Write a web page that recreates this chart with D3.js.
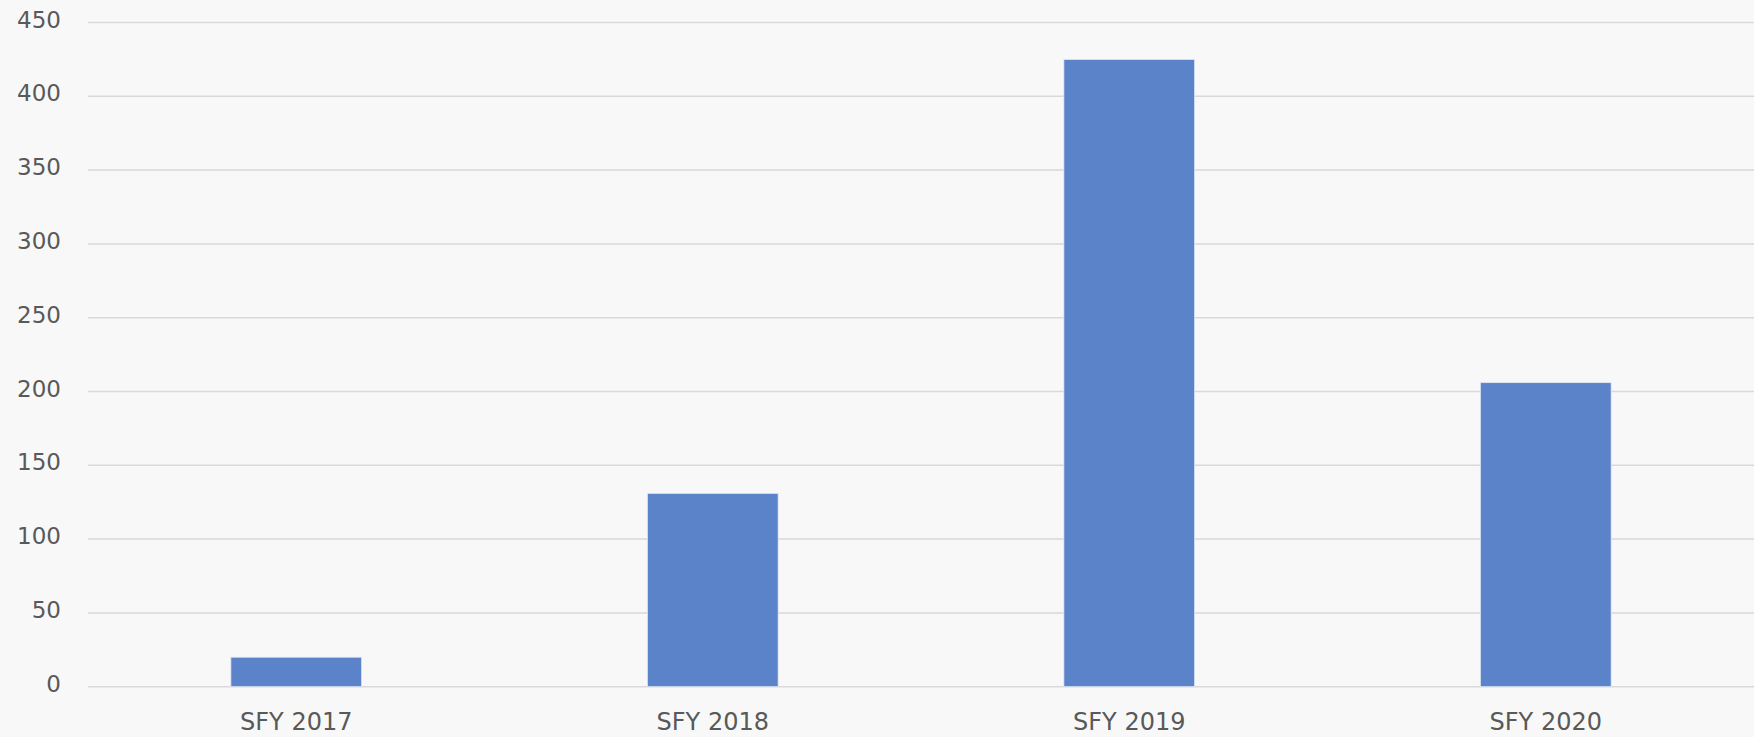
<!DOCTYPE html>
<html>
<head>
<meta charset="utf-8">
<script src="https://cdn.jsdelivr.net/npm/d3@7"></script>
<style>
  html, body { margin: 0; padding: 0; background: #f8f8f8; }
  svg { display: block; }
  text { font-family: "DejaVu Sans", Verdana, sans-serif; fill: #595959; }
</style>
</head>
<body>
<svg id="chart" width="1754" height="737"></svg>
<script>
const categories = ["SFY 2017", "SFY 2018", "SFY 2019", "SFY 2020"];
const values = [20, 131, 425, 206];
const yTicks = [0, 50, 100, 150, 200, 250, 300, 350, 400, 450];

const W = 1754, H = 737;
const margin = { left: 88, right: 0, top: 22.5, bottom: 50.3 };

const svg = d3.select("#chart");
svg.append("rect").attr("width", W).attr("height", H).attr("fill", "#f8f8f8");

const x = d3.scaleBand()
  .domain(categories)
  .range([margin.left, W - margin.right])
  .paddingInner(0.686)
  .paddingOuter(0.343);

const y = d3.scaleLinear()
  .domain([0, 450])
  .range([H - margin.bottom, margin.top]);

// gridlines
svg.append("g")
  .selectAll("line")
  .data(yTicks)
  .join("line")
  .attr("x1", margin.left)
  .attr("x2", W - margin.right)
  .attr("y1", d => y(d))
  .attr("y2", d => y(d))
  .attr("stroke", "#d9d9d9")
  .attr("stroke-width", 1.5);

// y labels
svg.append("g")
  .selectAll("text")
  .data(yTicks)
  .join("text")
  .attr("x", 61)
  .attr("y", d => y(d) - 3)
  .attr("text-anchor", "end")
  .attr("dominant-baseline", "central")
  .style("font-size", "23px")
  .text(d => d);

// bars
svg.append("g")
  .selectAll("rect")
  .data(values)
  .join("rect")
  .attr("x", (d, i) => x(categories[i]))
  .attr("width", x.bandwidth())
  .attr("y", d => y(d))
  .attr("height", d => y(0) - y(d))
  .attr("fill", "#5b83ca")
  .attr("stroke", "#e3e9f4")
  .attr("stroke-width", 0.8);

// x labels
svg.append("g")
  .selectAll("text")
  .data(categories)
  .join("text")
  .attr("x", d => x(d) + x.bandwidth() / 2)
  .attr("y", 730)
  .attr("text-anchor", "middle")
  .style("font-size", "24px")
  .text(d => d);
</script>
</body>
</html>
